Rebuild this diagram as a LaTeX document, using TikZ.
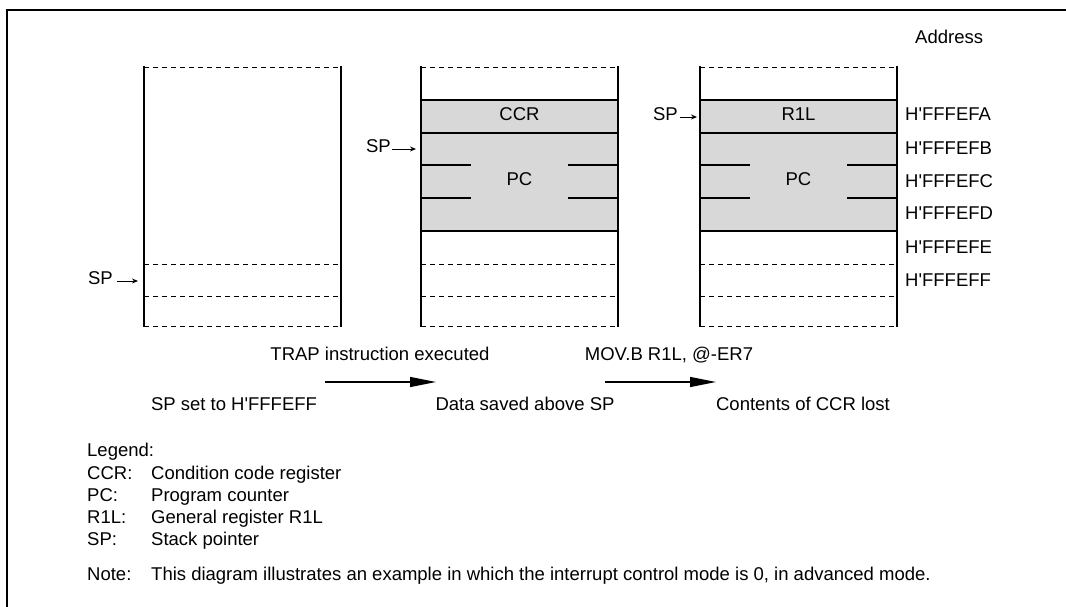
\documentclass[tikz,border=0pt]{standalone}
\usepackage{fontspec}
\setmainfont{Liberation Sans}[Ligatures=TeXOff]
\usetikzlibrary{arrows.meta}
\definecolor{cellgray}{RGB}{216,216,216}
\begin{document}
\begin{tikzpicture}[x=1pt,y=-1pt,
  wall/.style={line width=2.6pt},
  frame/.style={line width=2.6pt},
  dashline/.style={line width=0.9pt, dash pattern=on 5pt off 4pt},
  rowline/.style={line width=1.1pt},
  lbl/.style={font=\fontsize{18.5}{22}\selectfont, inner sep=0pt, text height=0.72em, text depth=0pt},
  sparrow/.style={-{Stealth[length=6pt,width=5pt]}, line width=0.9pt},
  bigarrow/.style={-{Triangle[length=26pt,width=10pt]}, line width=1.2pt},
]
\useasboundingbox (0,0) rectangle (1066,607);
\draw[frame] (7,607) -- (7,10) -- (1066,10);

% ---------- stack 1 ----------
\foreach \y in {67,264,296,326} \draw[dashline] (144,\y) -- (341,\y);
\draw[wall] (144,66) -- (144,327);
\draw[wall] (341,66) -- (341,327);
\coordinate (w1) at (138,281);
\node[lbl, anchor=east] (sp1) at (113,281) {SP};
\draw[sparrow] (sp1.east) ++(4,0) -- (w1);

% ---------- stacks 2 and 3 ----------
\foreach \xl/\n in {421/2,700/3}{
  \pgfmathsetmacro{\xr}{\xl+197}
  \fill[cellgray] (\xl,100) rectangle (\xr,231);
  \foreach \y in {67,264,296,326} \draw[dashline] (\xl,\y) -- (\xr,\y);
  \foreach \y in {100,133,231} \draw[rowline] (\xl,\y) -- (\xr,\y);
  \foreach \y in {165,198}{
    \draw[rowline] (\xl,\y) -- ++(50,0);
    \draw[rowline] (\xr,\y) -- ++(-50,0);
  }
  \draw[wall] (\xl,66) -- (\xl,327);
  \draw[wall] (\xr,66) -- (\xr,327);
}
\node[lbl] (ccr) at (519.5,117) {CCR};
\node[lbl] (pc2) at (519.5,182) {PC};
\node[lbl] (r1l) at (798.5,117) {R1L};
\node[lbl] (pc3) at (798.5,182) {PC};

\coordinate (w2) at (416,149);
\node[lbl, anchor=east] (sp2) at (391,149) {SP};
\draw[sparrow] (sp2.east) ++(1,0) -- (w2);

\coordinate (w3) at (697,117);
\node[lbl, anchor=east] (sp3) at (678,117) {SP};
\draw[sparrow] (sp3.east) ++(2,0) -- (w3);

% ---------- addresses ----------
\node[lbl, anchor=west] (addr) at (915,40) {Address};
\node[lbl, anchor=west] (a1) at (905,117) {H'FFFEFA};
\node[lbl, anchor=west] (a2) at (905,151) {H'FFFEFB};
\node[lbl, anchor=west] (a3) at (905,184) {H'FFFEFC};
\node[lbl, anchor=west] (a4) at (905,216) {H'FFFEFD};
\node[lbl, anchor=west] (a5) at (905,250) {H'FFFEFE};
\node[lbl, anchor=west] (a6) at (905,283) {H'FFFEFF};

% ---------- transitions ----------
\node[lbl] (t1) at (380,357) {TRAP instruction executed};
\node[lbl] (t2) at (669,357) {MOV.B R1L, @-ER7};
\coordinate (t1s) at (325,382);
\coordinate (t1e) at (436,382);
\coordinate (t2s) at (605,382);
\coordinate (t2e) at (716,382);
\draw[bigarrow] (t1s) -- (t1e);
\draw[bigarrow] (t2s) -- (t2e);

\node[lbl] (c1) at (234,407) {SP set to H'FFFEFF};
\node[lbl] (c2) at (525,407) {Data saved above SP};
\node[lbl] (c3) at (803,407) {Contents of CCR lost};

% ---------- legend ----------
\node[lbl, anchor=west] (lg) at (87,453) {Legend:};
\node[lbl, anchor=west] (k1) at (87,476) {CCR:};
\node[lbl, anchor=west] (v1) at (151,476) {Condition code register};
\node[lbl, anchor=west] (k2) at (87,498) {PC:};
\node[lbl, anchor=west] (v2) at (151,498) {Program counter};
\node[lbl, anchor=west] (k3) at (87,520) {R1L:};
\node[lbl, anchor=west] (v3) at (151,520) {General register R1L};
\node[lbl, anchor=west] (k4) at (87,542) {SP:};
\node[lbl, anchor=west] (v4) at (151,542) {Stack pointer};
\node[lbl, anchor=west] (nk) at (87,577) {Note:};
\node[lbl, anchor=west] (nv) at (151,577) {This diagram illustrates an example in which the interrupt control mode is 0, in advanced mode.};
\end{tikzpicture}
\end{document}
